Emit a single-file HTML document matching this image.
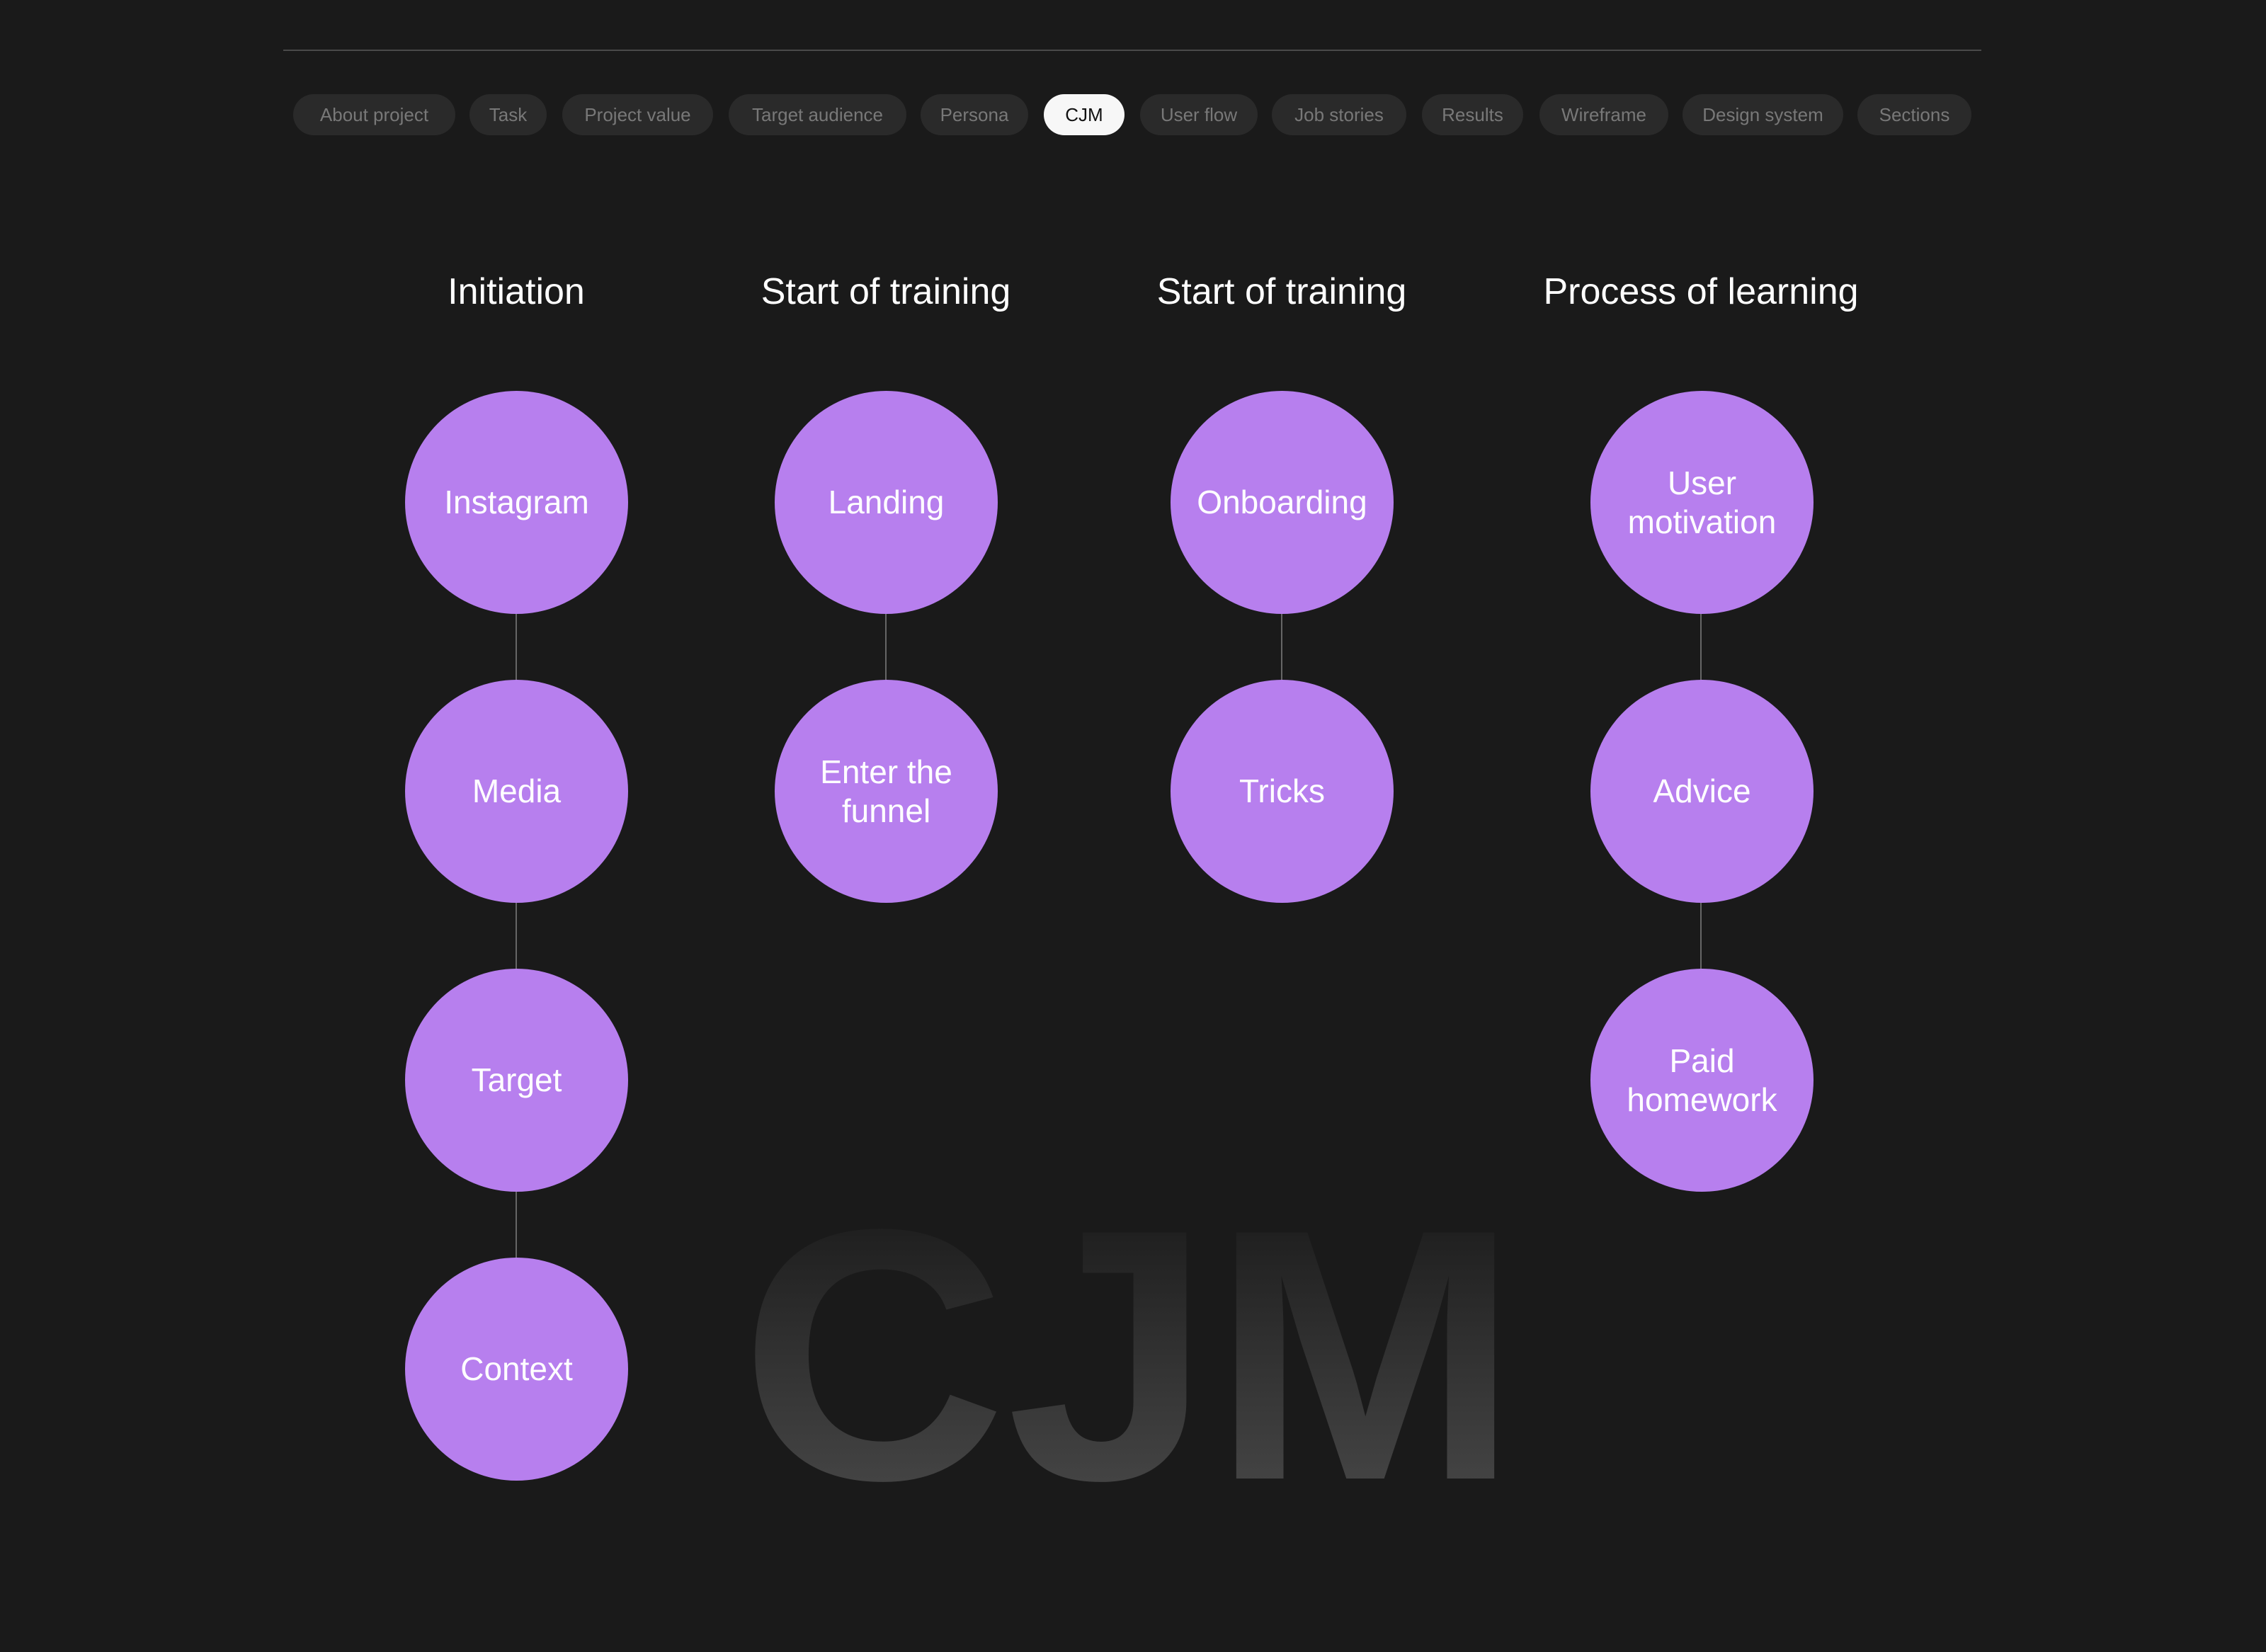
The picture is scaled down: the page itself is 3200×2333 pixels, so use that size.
<!DOCTYPE html>
<html><head><meta charset="utf-8"><style>
html,body{margin:0;padding:0;background:#1a1a1a;}
body{width:3200px;height:2333px;position:relative;overflow:hidden;font-family:"Liberation Sans",sans-serif;}
.line{position:absolute;left:400px;top:70px;width:2398px;height:2px;background:#4a4a4a;}
.tab{position:absolute;top:133px;height:58px;border-radius:29px;background:#2a2a2a;color:#787878;font-size:26px;line-height:58px;text-align:center;}
.tab.on{background:#f7f7f7;color:#111;}
.h{position:absolute;top:380px;width:700px;margin-left:-350px;text-align:center;color:#fff;font-size:52px;line-height:64px;}
.c{position:absolute;width:315px;height:315px;margin-left:-157px;margin-top:-157px;border-radius:50%;background:#b77fee;color:#fff;font-size:46px;line-height:55px;display:flex;align-items:center;justify-content:center;text-align:center;}
.v{position:absolute;width:2px;background:#666;margin-left:-1px;}
</style></head><body>
<div class="line"></div>
<div class="tab" style="left:414px;width:229px">About project</div>
<div class="tab" style="left:663px;width:109px">Task</div>
<div class="tab" style="left:794px;width:213px">Project value</div>
<div class="tab" style="left:1029px;width:251px">Target audience</div>
<div class="tab" style="left:1300px;width:152px">Persona</div>
<div class="tab on" style="left:1474px;width:114px">CJM</div>
<div class="tab" style="left:1610px;width:166px">User flow</div>
<div class="tab" style="left:1796px;width:190px">Job stories</div>
<div class="tab" style="left:2008px;width:143px">Results</div>
<div class="tab" style="left:2174px;width:182px">Wireframe</div>
<div class="tab" style="left:2376px;width:227px">Design system</div>
<div class="tab" style="left:2623px;width:161px">Sections</div>

<div class="h" style="left:729px">Initiation</div>
<div class="h" style="left:1251px">Start of training</div>
<div class="h" style="left:1810px">Start of training</div>
<div class="h" style="left:2402px">Process of learning</div>

<svg style="position:absolute;left:0;top:0" width="3200" height="2333">
<defs><linearGradient id="g" x1="0" y1="1700" x2="0" y2="2100" gradientUnits="userSpaceOnUse">
<stop offset="0" stop-color="#1c1c1c"/><stop offset="1" stop-color="#444"/></linearGradient></defs>
<text x="1045" y="2088" font-family="Liberation Sans" font-weight="bold" font-size="505" fill="url(#g)" textLength="1100" lengthAdjust="spacingAndGlyphs">CJM</text>
</svg>

<div class="v" style="left:729px;top:866px;height:100px"></div>
<div class="v" style="left:729px;top:1274px;height:100px"></div>
<div class="v" style="left:729px;top:1682px;height:100px"></div>
<div class="v" style="left:1251px;top:866px;height:100px"></div>
<div class="v" style="left:1810px;top:866px;height:100px"></div>
<div class="v" style="left:2402px;top:866px;height:100px"></div>
<div class="v" style="left:2402px;top:1274px;height:100px"></div>

<div class="c" style="left:729px;top:709px">Instagram</div>
<div class="c" style="left:729px;top:1117px">Media</div>
<div class="c" style="left:729px;top:1525px">Target</div>
<div class="c" style="left:729px;top:1933px">Context</div>
<div class="c" style="left:1251px;top:709px">Landing</div>
<div class="c" style="left:1251px;top:1117px">Enter the<br>funnel</div>
<div class="c" style="left:1810px;top:709px">Onboarding</div>
<div class="c" style="left:1810px;top:1117px">Tricks</div>
<div class="c" style="left:2403px;top:709px">User<br>motivation</div>
<div class="c" style="left:2403px;top:1117px">Advice</div>
<div class="c" style="left:2403px;top:1525px">Paid<br>homework</div>
</body></html>
